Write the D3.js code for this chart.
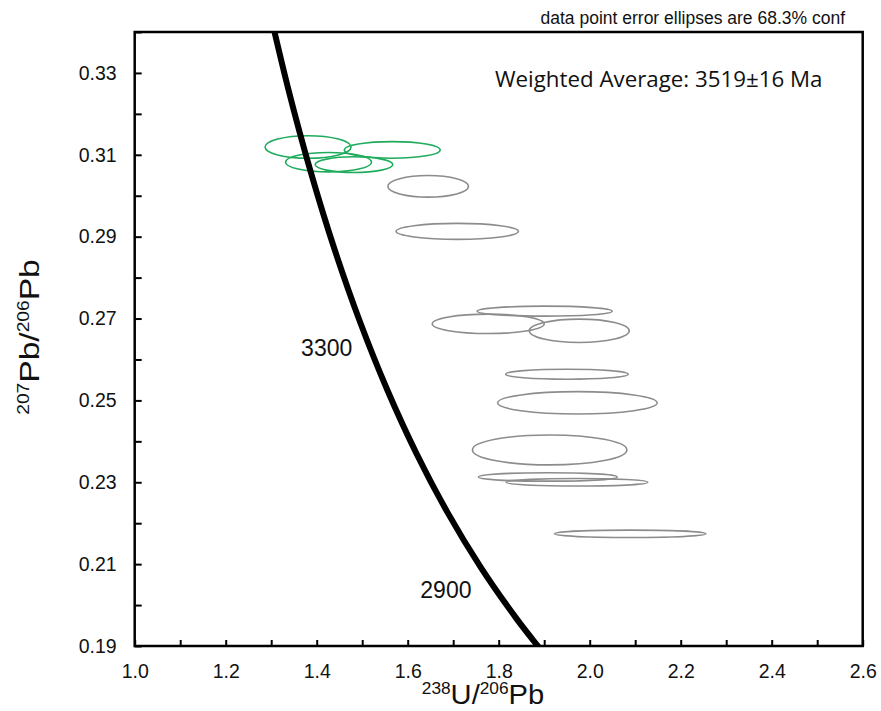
<!DOCTYPE html>
<html>
<head>
<meta charset="utf-8">
<script src="https://cdn.jsdelivr.net/npm/d3@7"></script>
<style>
  body { margin: 0; background: #fff; }
  svg text { font-family: "Liberation Sans", Arial, sans-serif; }
</style>
</head>
<body>
<div id="chart-area"></div>
<script>

let width = 881,
    height = 711;

// concordia (age in Ma, 238U/206Pb, 207Pb/206Pb)
let concAge = [2700, 2750, 2800, 2900, 3000, 3100, 3200, 3300, 3400, 3500, 3600, 3700];
let concU   = [1.92230, 1.87952, 1.83830, 1.76026, 1.68743, 1.61940, 1.55570, 1.49594, 1.43975, 1.38686, 1.33697, 1.28984];
let concPb  = [0.18519, 0.19090, 0.19681, 0.20928, 0.22265, 0.23701, 0.25242, 0.26896, 0.28673, 0.30583, 0.32634, 0.34839];

// spot analyses: centre and ellipse half-axes
let spotU   = [1.381, 1.566, 1.426, 1.482, 1.645, 1.709, 1.901, 1.777, 1.977, 1.950, 1.973, 1.912, 1.908, 1.972, 2.089];
let spotPb  = [0.3119, 0.3112, 0.3082, 0.3076, 0.3023, 0.2913, 0.2718, 0.2687, 0.2670, 0.2564, 0.2494, 0.2379, 0.2313, 0.2300, 0.2174];
let errU    = [0.0945, 0.1055, 0.0945, 0.0853, 0.0886, 0.1345, 0.1484, 0.1231, 0.1099, 0.1347, 0.1754, 0.1697, 0.1527, 0.1556, 0.1664];
let errPb   = [0.00276, 0.00203, 0.00237, 0.00191, 0.00264, 0.00195, 0.00122, 0.00237, 0.00286, 0.00122, 0.00274, 0.00366, 0.00103, 0.00093, 0.0009];
let inAverage = [true, true, true, true, false, false, false, false, false, false, false, false, false, false, false];

let xTicks = d3.range(10, 27).map(d => d / 10);
let yTicks = d3.range(19, 35).map(d => d / 100);

let ageLabels = [3300, 2900];
let ageLabelU  = [1.422, 1.684];
let ageLabelPb = [0.2609, 0.2017];

let svg = d3.select("#chart-area").append("svg")
    .attr("width", width)
    .attr("height", height);

let x = d3.scaleLinear().domain([1.0, 2.6]).range([134.7, 862.7]);
let y = d3.scaleLinear().domain([0.19, 0.34]).range([646, 32]);

svg.append("clipPath").attr("id", "plot-clip")
  .append("rect")
    .attr("x", x(1.0)).attr("y", y(0.34))
    .attr("width", x(2.6) - x(1.0)).attr("height", y(0.19) - y(0.34));

// axes
let xAxis = d3.axisBottom(x)
    .tickValues(xTicks)
    .tickSize(-6)
    .tickPadding(18)
    .tickFormat((d, i) => i % 2 === 0 ? d3.format(".1f")(d) : "");

let yAxis = d3.axisLeft(y)
    .tickValues(yTicks)
    .tickSize(-7)
    .tickPadding(18)
    .tickFormat((d, i) => i % 2 === 0 ? d3.format(".2f")(d) : "");

let gx = svg.append("g")
    .attr("transform", "translate(0," + y(0.19) + ")")
    .call(xAxis);
let gy = svg.append("g")
    .attr("transform", "translate(" + x(1.0) + ",0)")
    .call(yAxis);

[gx, gy].forEach(function(g) {
  g.select(".domain").remove();
  g.selectAll(".tick line").attr("stroke", "#000").attr("stroke-width", 2);
  g.selectAll(".tick text")
    .attr("fill", "#111")
    .style("font-size", "19.5px");
});

// ellipses
let spots = spotU.map((u, i) => ({u: u, pb: spotPb[i], eu: errU[i], epb: errPb[i], avg: inAverage[i]}));

let plot = svg.append("g").attr("clip-path", "url(#plot-clip)");

plot.selectAll("ellipse")
    .data(spots)
    .enter().append("ellipse")
    .attr("cx", d => x(d.u))
    .attr("cy", d => y(d.pb))
    .attr("rx", d => x(d.u + d.eu) - x(d.u))
    .attr("ry", d => y(d.pb) - y(d.pb + d.epb))
    .attr("fill", "none")
    .attr("stroke", d => d.avg ? "#1fab5c" : "#8c8c8c")
    .attr("stroke-width", 1.6);

// concordia curve
let conc = concAge.map((a, i) => [concU[i], concPb[i]]);
let line = d3.line()
    .x(d => x(d[0]))
    .y(d => y(d[1]))
    .curve(d3.curveCatmullRom);

plot.append("path")
    .datum(conc)
    .attr("d", line)
    .attr("fill", "none")
    .attr("stroke", "#000")
    .attr("stroke-width", 6);

svg.selectAll(".age-label")
    .data(ageLabels)
    .enter().append("text")
    .attr("class", "age-label")
    .attr("x", (d, i) => x(ageLabelU[i]))
    .attr("y", (d, i) => y(ageLabelPb[i]))
    .attr("text-anchor", "middle")
    .style("font-size", "23px")
    .attr("fill", "#111")
    .text(d => d);

// frame
svg.append("rect")
    .attr("x", x(1.0)).attr("y", y(0.34))
    .attr("width", x(2.6) - x(1.0)).attr("height", y(0.19) - y(0.34))
    .attr("fill", "none")
    .attr("stroke", "#000")
    .attr("stroke-width", 2.5);

// texts
svg.append("text")
    .attr("x", 845).attr("y", 24)
    .attr("text-anchor", "end")
    .style("font-size", "17.5px")
    .attr("fill", "#111")
    .text("data point error ellipses are 68.3% conf");

svg.append("text")
    .attr("x", 495).attr("y", 87)
    .style("font-family", "'Open Sans', sans-serif")
    .style("font-size", "22.3px")
    .attr("fill", "#111")
    .text("Weighted Average: 3519\u00b116 Ma");

let xt = svg.append("text")
    .attr("transform", "translate(483,704) scale(1.08,1)")
    .attr("text-anchor", "middle")
    .style("font-size", "27px")
    .attr("fill", "#111");
xt.append("tspan").attr("dy", -10).style("font-size", "16px").text("238");
xt.append("tspan").attr("dy", 10).text("U/");
xt.append("tspan").attr("dy", -10).style("font-size", "16px").text("206");
xt.append("tspan").attr("dy", 10).text("Pb");

let yt = svg.append("text")
    .attr("transform", "translate(39,337) rotate(-90) scale(1.2,1)")
    .attr("text-anchor", "middle")
    .style("font-size", "28px")
    .attr("fill", "#111");
yt.append("tspan").attr("dy", -10).style("font-size", "16px").text("207");
yt.append("tspan").attr("dy", 10).text("Pb/");
yt.append("tspan").attr("dy", -10).style("font-size", "16px").text("206");
yt.append("tspan").attr("dy", 10).text("Pb");

</script>
</body>
</html>
